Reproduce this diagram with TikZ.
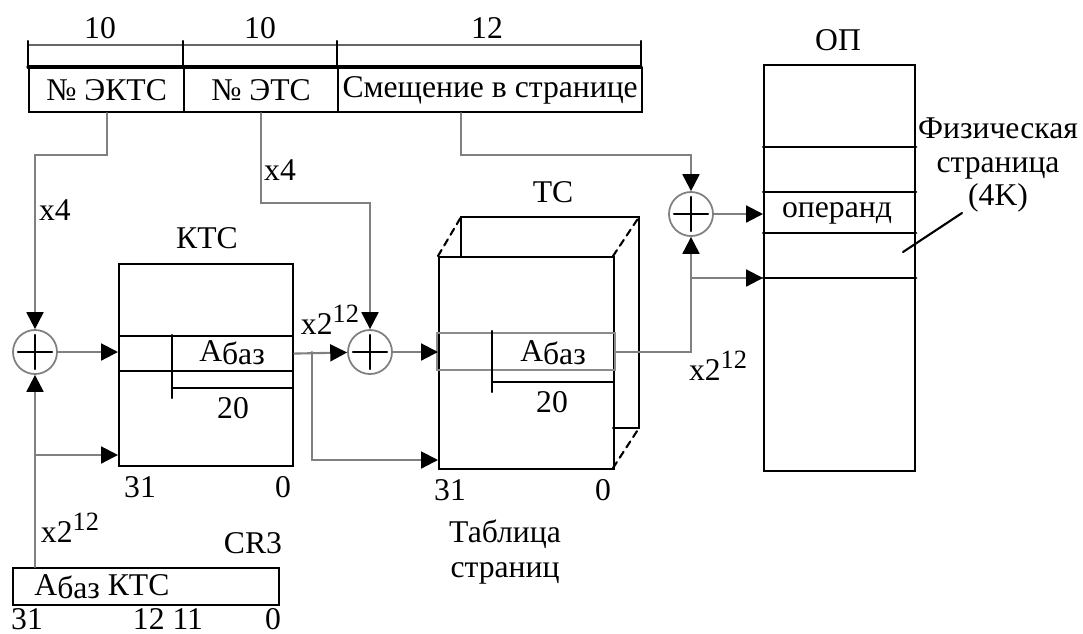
\documentclass[tikz,border=0pt]{standalone}
\usepackage{fontspec}
\setmainfont{Liberation Serif}
\usetikzlibrary{arrows.meta,positioning}
\newcommand{\abaz}{А\raisebox{-0.8pt}{баз}}
\newcommand{\xpow}{x2\raisebox{0.38em}{\fontsize{7.5}{8}\selectfont 12}}

\begin{document}
\begin{tikzpicture}[x=0.01cm,y=-0.01cm,>={Triangle[length=4.8pt,width=4.8pt,color=black]},
  font=\fontsize{9}{10.5}\selectfont,line cap=round,
  box/.style={draw,line width=0.6pt,inner sep=0pt,anchor=north west},
  link/.style={draw=black!50,line width=0.6pt},
  fine/.style={line width=0.6pt},
  adder/.style={circle,draw=black!50,line width=0.5pt,minimum size=0.44cm,inner sep=0pt,
    path picture={\draw[draw=black,line width=0.6pt]
      ([xshift=0.05cm]path picture bounding box.west) -- ([xshift=-0.05cm]path picture bounding box.east)
      ([yshift=-0.05cm]path picture bounding box.north) -- ([yshift=0.05cm]path picture bounding box.south);}}]
\useasboundingbox (0,0) rectangle (1083,633);
\draw[black!60,fine] (28,45) -- (641,45);
\draw[line width=0.9pt] (28,67) -- (641,67);
\foreach \x in {28,183,337,641} \draw[fine] (\x,41) -- (\x,67);
\node[box,minimum width=1.55cm,minimum height=0.44cm] (ektc) at (28,67) {№ ЭКТС};
\node[box,minimum width=1.54cm,minimum height=0.44cm] (etc) at (183,67) {№ ЭТС};
\node[box,minimum width=3.04cm,minimum height=0.44cm] (offs) at (337,67) {Смещение в странице};
\node (w1) at (100,28) {10};
\node (w2) at (260,28) {10};
\node (w3) at (487,28) {12};
\node[adder] (s1) at (35,352) {};
\node[adder] (s2) at (370,352) {};
\node[adder] (s3) at (691,214) {};
\node[box,minimum width=1.74cm,minimum height=2.02cm] (ktc) at (118,263) {};
\node[box,minimum width=1.74cm,minimum height=0.35cm] (ktcrow) at (118,335) {};
\draw[fine] (172,335) -- (172,398) (172,388) -- (292,388);
\node (ktct) at (207,238) {КТС};
\node (ktca) at (232,353) {\abaz};
\node (ktc20) at (233,408) {20};
\node (ktc31) at (140,487) {31};
\node (ktc0) at (283,487) {0};
\draw[fine] (461,256) -- (461,217) -- (639,217) -- (639,428) -- (613,428);
\draw[fine,dash pattern=on 2pt off 1.5pt] (438,256) -- (461,217) (613,256) -- (639,217) (613,468) -- (639,428);
\node[box,minimum width=1.75cm,minimum height=2.12cm] (tc) at (438,256) {};
\node[box,draw=black!45,minimum width=1.78cm,minimum height=0.37cm] (tcrow) at (436,332) {};
\draw[fine] (492,331) -- (492,392) (492,382) -- (613,382);
\node (tct) at (553,192) {ТС};
\node (tca) at (553,353) {\abaz};
\node (tc20) at (552,402) {20};
\node (tc31) at (450,490) {31};
\node (tc0) at (603,490) {0};
\node[align=center,font=\fontsize{9}{10}\selectfont] (tcname) at (505,552) {Таблица\\страниц};
\node[box,minimum width=1.51cm,minimum height=4.06cm] (op) at (763,64) {};
\foreach \y in {147,192,233,278} \draw[fine] (op.west |- 0,\y) -- (op.east |- 0,\y);
\node (opt) at (838,40) {ОП};
\node (opnd) at (837,213) {операнд};
\node[align=center,font=\fontsize{9}{9.4}\selectfont] (phys) at (998,165) {Физическая\\страница\\(4K)};
\coordinate (lead) at (903,252);
\draw[fine] (962,213) -- (lead);
\node[box,minimum width=2.66cm,minimum height=0.37cm] (cr3) at (12,567) {};
\node[anchor=west] (cr3t) at ([xshift=0.1cm]cr3.west) {\abaz{} КТС};
\node (cr3n) at (253,543) {CR3};
\node (c31) at (27,619) {31};
\node (c12) at (168,619) {12 11};
\node (c0) at (273,619) {0};
\coordinate (r1) at (0,155);
\coordinate (r2) at (0,203);
\draw[link,->] (ektc.south) -- (ektc.south |- r1) -| (s1);
\draw[link,->] (etc.south) -- (etc.south |- r2) -| (s2);
\draw[link,->] ([xshift=-0.29cm]offs.south) -- ([xshift=-0.29cm]offs.south |- r1) -| (s3);
\node (x4a) at (55,210) {x4};
\node (x4b) at (280,170) {x4};
\draw[link,->] (s1) -- (s1 -| ktc.west);
\draw[link,->] (cr3.north -| s1) -- (s1);
\coordinate (j1) at (35,455);
\draw[link,->] (j1) -- (j1 -| ktc.west);
\node (p1) at (70,528) {\xpow};
\draw[link,->] (ktcrow.east) -- (s2);
\coordinate (j2) at (312,352);
\coordinate (j3) at (312,460);
\draw[link,->] (j2) -- (j3) -- (j3 -| tc.west);
\node (p2) at (330,320) {\xpow};
\draw[link,->] (s2) -- (s2 -| tc.west);
\draw[link,->] (tcrow.east) -| (s3);
\coordinate (j4) at (691,278);
\draw[link,->] (j4) -- (j4 -| op.west);
\draw[link,->] (s3) -- (s3 -| op.west);
\node (p3) at (718,366) {\xpow};
\end{tikzpicture}
\end{document}
